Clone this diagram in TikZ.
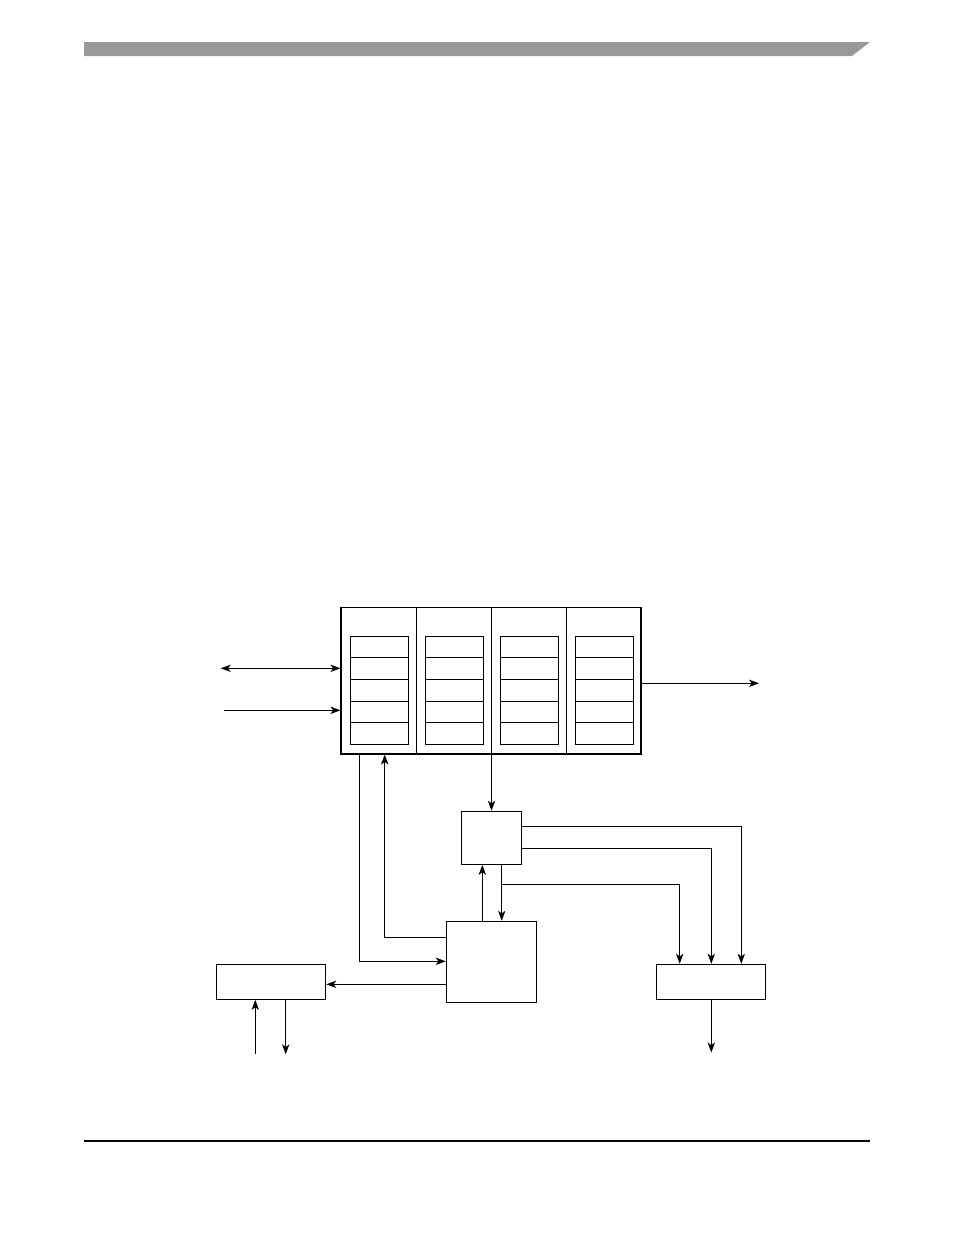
\documentclass[tikz,border=0pt]{standalone}
\usetikzlibrary{arrows.meta}
\begin{document}
\begin{tikzpicture}[x=0.75pt,y=-0.75pt,
  line width=0.8pt,
  >={Stealth[length=7.5pt,width=5.5pt,inset=2pt]},
  box/.style={draw,line width=0.8pt,inner sep=0pt,minimum width={#1*0.75pt}},
  colbox/.style={inner sep=0pt,minimum width={75*0.75pt},minimum height={146.5*0.75pt}},
  cell/.style={draw,line width=0.8pt,inner sep=0pt,minimum width={58*0.75pt},minimum height={21.6*0.75pt}}]
\useasboundingbox (0,0) rectangle (954,1235);
% header bar and footer rule
\fill[fill={rgb,255:red,153;green,153;blue,153}] (84,42) -- (870,42) -- (852,56) -- (84,56) -- cycle;
\draw[line width=1.1pt] (84,1141) -- (870,1141);
% main box with four columns
\node[box=300,minimum height={146.5*0.75pt}] (main) at (491,680.75) {};
\foreach \i/\cx in {1/378.5,2/453.5,3/528.5,4/603.5}{
  \node[colbox] (col\i) at (\cx,680.75) {};
}
\foreach \i in {1,2,3}{
  \draw (col\i.north east) -- (col\i.south east);
}
\foreach \i/\cx in {1/379.5,2/454.5,3/529.5,4/604.5}{
  \foreach \j/\cy in {1/647.1,2/668.7,3/690.3,4/711.9,5/733.5}{
    \node[cell] (c\i\j) at (\cx,\cy) {};
  }
}
% other boxes
\node[box=59.4,minimum height={53*0.75pt}] (ctrl) at (491.5,837.8) {};
\node[box=90.4,minimum height={81*0.75pt}] (big) at (491.5,961.8) {};
\node[box=109,minimum height={35*0.75pt}] (rbox) at (710.8,981.8) {};
\node[box=109.4,minimum height={35*0.75pt}] (lbox) at (271,981.8) {};
% coordinates
\coordinate (inL1) at (220.7,668.3);
\coordinate (inL2) at (224,710.3);
\coordinate (outR) at (759,683.3);
\coordinate (a) at (359.3,961.3);
\coordinate (b) at (384.7,937.3);
\coordinate (u1) at (482.3,921.3);
\coordinate (u2) at (501.7,864.3);
\coordinate (d1) at (679.7,884.3);
\coordinate (d2) at (711.3,848.3);
\coordinate (d3) at (741.3,826.3);
\coordinate (o2) at (711.3,1052.5);
\coordinate (e) at (446.3,984.3);
\coordinate (l1) at (255.3,1054.3);
\coordinate (l2) at (285.7,1054.3);
% connectors
\draw[<->] (inL1) -- (col1.west |- inL1);
\draw[->] (inL2) -- (col1.west |- inL2);
\draw[->] (col4.east |- outR) -- (outR);
\draw[->] (col1.south -| a) -- (a) -- (big.west |- a);
\draw[->] (big.west |- b) -- (b) -- (col1.south -| b);
\draw[->] (col2.south east) -- (ctrl.north -| col2.south east);
\draw[->] (u1) -- (ctrl.south -| u1);
\draw[->] (u2) -- (big.north -| u2);
\draw[->] (u2 |- d1) -- (d1) -- (rbox.north -| d1);
\draw[->] (ctrl.east |- d2) -- (d2) -- (rbox.north -| d2);
\draw[->] (ctrl.east |- d3) -- (d3) -- (rbox.north -| d3);
\draw[->] (rbox.south -| o2) -- (o2);
\draw[->] (e) -- (lbox.east |- e);
\draw[->] (l1) -- (lbox.south -| l1);
\draw[->] (lbox.south -| l2) -- (l2);
\end{tikzpicture}
\end{document}
